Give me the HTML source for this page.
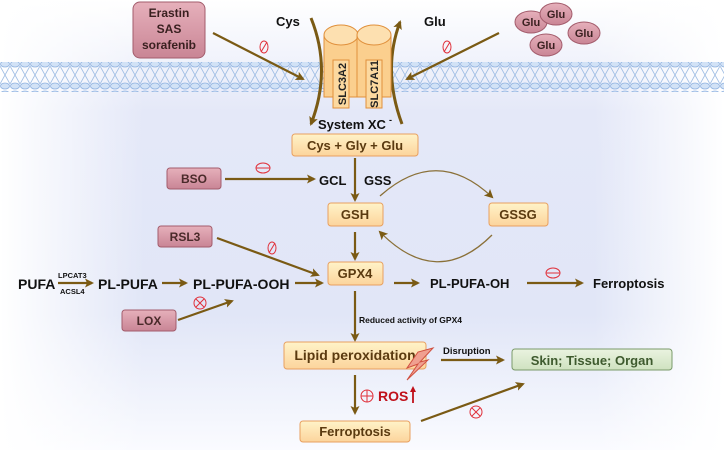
<!DOCTYPE html>
<html><head><meta charset="utf-8"><style>
body{margin:0;width:724px;height:450px;overflow:hidden;background:#fff}
svg{display:block;font-family:"Liberation Sans",Arial,sans-serif;font-weight:bold}
</style></head><body>
<svg width="724" height="450" viewBox="0 0 724 450" xmlns="http://www.w3.org/2000/svg">
<defs>
<linearGradient id="bgv" x1="0" y1="0" x2="0" y2="1">
<stop offset="0" stop-color="#fff"/><stop offset="0.25" stop-color="#e4e8f8"/><stop offset="0.7" stop-color="#e1e6f7"/><stop offset="1" stop-color="#fafbff"/></linearGradient>
<linearGradient id="bgh" x1="0" y1="0" x2="1" y2="0">
<stop offset="0" stop-color="#fff" stop-opacity="1"/><stop offset="0.2" stop-color="#fff" stop-opacity="0"/><stop offset="0.82" stop-color="#fff" stop-opacity="0"/><stop offset="1" stop-color="#fff" stop-opacity="1"/></linearGradient>
<linearGradient id="pink" x1="0" y1="0" x2="0" y2="1"><stop offset="0" stop-color="#e6b0bb"/><stop offset="1" stop-color="#c98595"/></linearGradient>
<linearGradient id="org" x1="0" y1="0" x2="0" y2="1"><stop offset="0" stop-color="#fff3c8"/><stop offset="1" stop-color="#fcd49c"/></linearGradient>
<linearGradient id="grn" x1="0" y1="0" x2="0" y2="1"><stop offset="0" stop-color="#eaf3e0"/><stop offset="1" stop-color="#cfe2c0"/></linearGradient>
<pattern id="mem" width="10" height="30" patternUnits="userSpaceOnUse">
<path d="M0 6 Q5 15 10 24 M10 6 Q5 15 0 24 M0 6 Q-5 15 -10 24 M10 6 Q15 15 20 24" stroke="#9fbde4" stroke-width="0.8" fill="none"/>
<ellipse cx="5" cy="4" rx="4.5" ry="3" fill="#d2e2f6" stroke="#8fb2e0" stroke-width="0.8"/>
<ellipse cx="5" cy="26" rx="4.5" ry="3" fill="#d2e2f6" stroke="#8fb2e0" stroke-width="0.8"/>
</pattern>
<marker id="ar" markerWidth="9" markerHeight="9" refX="7" refY="4.5" orient="auto" markerUnits="userSpaceOnUse"><path d="M0,0 L9,4.5 L0,9 L2,4.5 Z" fill="#7a5a14"/></marker>
</defs>
<rect width="724" height="450" fill="url(#bgv)"/>
<rect width="724" height="450" fill="url(#bgh)"/>
<rect x="0" y="62" width="724" height="30" fill="url(#mem)"/>

<g stroke="#7a5a14" stroke-width="2.2" fill="none" marker-end="url(#ar)">
<line x1="213" y1="33" x2="303" y2="79"/>
<line x1="499" y1="33" x2="407" y2="79"/>
<line x1="225" y1="179" x2="314" y2="179"/>
<line x1="355" y1="158" x2="355" y2="200"/>
<line x1="355" y1="232" x2="355" y2="259"/>
<line x1="217" y1="238" x2="318" y2="275"/>
<line x1="58" y1="283" x2="92" y2="283"/>
<line x1="162" y1="283" x2="186" y2="283"/>
<line x1="295" y1="283" x2="322" y2="283"/>
<line x1="178" y1="320" x2="232" y2="301"/>
<line x1="394" y1="283" x2="418" y2="283"/>
<line x1="527" y1="283" x2="582" y2="283"/>
<line x1="355" y1="291" x2="355" y2="340"/>
<line x1="441" y1="360" x2="503" y2="360"/>
<line x1="355" y1="375" x2="355" y2="413"/>
<line x1="421" y1="421" x2="523" y2="384"/>
</g>
<g stroke="#8a7038" stroke-width="1.3" fill="none" marker-end="url(#ar)">
<path d="M380 196 Q437 145 492 197"/>
<path d="M492 235 Q437 290 380 232"/>
</g>

<!-- channel -->
<g stroke="#7a5a14" stroke-width="3" fill="none" marker-end="url(#ar)">
<path d="M311 18 Q332 70 311 124"/>
<path d="M402 124 Q382 70 400 22"/>
</g>
<g stroke="#e0903c" stroke-width="1" fill="#fbcf8e">
<rect x="324" y="35" width="34" height="62"/>
<ellipse cx="341" cy="35" rx="17" ry="10" fill="#fde0b0"/>
<rect x="333" y="60" width="16" height="48" fill="#fcd9a0"/>
<rect x="357" y="35" width="34" height="62"/>
<ellipse cx="374" cy="35" rx="17" ry="10" fill="#fde0b0"/>
<rect x="366" y="60" width="16" height="48" fill="#fcd9a0"/>
</g>
<text x="346" y="84" font-size="11" transform="rotate(-90 346 84)" text-anchor="middle" fill="#222">SLC3A2</text>
<text x="378" y="84" font-size="11" transform="rotate(-90 378 84)" text-anchor="middle" fill="#222">SLC7A11</text>

<!-- boxes -->
<rect x="133" y="2" width="72" height="56" rx="7" fill="url(#pink)" stroke="#a35c6c"/>
<text font-size="12" fill="#3a2020" text-anchor="middle"><tspan x="169" y="17">Erastin</tspan><tspan x="169" y="33">SAS</tspan><tspan x="169" y="49">sorafenib</tspan></text>
<g fill="url(#pink)" stroke="#a35c6c">
<ellipse cx="531" cy="22" rx="16" ry="11"/><ellipse cx="556" cy="14" rx="16" ry="11"/><ellipse cx="546" cy="45" rx="16" ry="11"/><ellipse cx="584" cy="33" rx="16" ry="11"/>
</g>
<g font-size="11" fill="#3a2020" text-anchor="middle"><text x="531" y="26">Glu</text><text x="556" y="18">Glu</text><text x="546" y="49">Glu</text><text x="584" y="37">Glu</text></g>

<g fill="url(#pink)" stroke="#a35c6c">
<rect x="167" y="168" width="54" height="21" rx="3"/>
<rect x="158" y="226" width="54" height="21" rx="3"/>
<rect x="122" y="310" width="54" height="21" rx="3"/>
</g>
<g font-size="12" fill="#4a2a2a" text-anchor="middle"><text x="194" y="183">BSO</text><text x="185" y="241">RSL3</text><text x="149" y="325">LOX</text></g>

<g fill="url(#org)" stroke="#e8a060">
<rect x="292" y="134" width="126" height="22" rx="3"/>
<rect x="328" y="203" width="55" height="23" rx="3"/>
<rect x="489" y="203" width="59" height="23" rx="3"/>
<rect x="328" y="262" width="55" height="23" rx="3"/>
<rect x="284" y="342" width="142" height="27" rx="3"/>
<rect x="300" y="421" width="110" height="21" rx="3"/>
</g>
<rect x="512" y="349" width="160" height="21" rx="3" fill="url(#grn)" stroke="#7a9a6a"/>
<g fill="#5a3a10" text-anchor="middle" font-size="13">
<text x="355" y="150">Cys + Gly + Glu</text>
<text x="355" y="219">GSH</text><text x="518" y="219">GSSG</text><text x="355" y="278">GPX4</text>
<text x="355" y="360" font-size="14">Lipid peroxidation</text>
<text x="355" y="436">Ferroptosis</text>
</g>
<text x="592" y="365" font-size="13" fill="#3e5a2e" text-anchor="middle">Skin; Tissue; Organ</text>

<path d="M433 348 L418 352 L407 368 L418 364 L407 380 L428 360 L420 362 Z" fill="#f0a090" stroke="#d05040" stroke-width="1"/>

<g fill="#111" font-size="13">
<text x="276" y="26">Cys</text><text x="424" y="26">Glu</text>
<text x="318" y="129">System XC</text><text x="389" y="123" font-size="9">-</text>
<text x="319" y="185">GCL</text><text x="364" y="185">GSS</text>
<text x="18" y="289" font-size="14">PUFA</text>
<text x="98" y="289" font-size="14">PL-PUFA</text>
<text x="193" y="289" font-size="14">PL-PUFA-OOH</text>
<text x="430" y="288">PL-PUFA-OH</text>
<text x="593" y="288">Ferroptosis</text>
<text x="58" y="278" font-size="7.5">LPCAT3</text>
<text x="60" y="294" font-size="7.5">ACSL4</text>
<text x="359" y="323" font-size="8.5">Reduced activity of GPX4</text>
<text x="443" y="354" font-size="9.5">Disruption</text>
</g>
<text x="378" y="401" font-size="14" fill="#c0101a">ROS</text>
<path d="M413 403 L413 390" stroke="#c0101a" stroke-width="1.8"/>
<path d="M410 392 L413 386 L416 392 Z" fill="#c0101a"/>

<g stroke="#e0303a" stroke-width="1" fill="none">
<ellipse cx="264" cy="47" rx="4" ry="6"/><line x1="261" y1="52" x2="267" y2="42"/>
<ellipse cx="447" cy="47" rx="4" ry="6"/><line x1="444" y1="52" x2="450" y2="42"/>
<ellipse cx="272" cy="248" rx="4" ry="6"/><line x1="269" y1="253" x2="275" y2="243"/>
<ellipse cx="263" cy="168" rx="7" ry="5"/><line x1="256" y1="168" x2="270" y2="168"/>
<ellipse cx="553" cy="273" rx="7" ry="5"/><line x1="546" y1="273" x2="560" y2="273"/>
<circle cx="200" cy="303" r="6"/><line x1="196" y1="299" x2="204" y2="307"/><line x1="204" y1="299" x2="196" y2="307"/>
<circle cx="476" cy="412" r="6"/><line x1="472" y1="408" x2="480" y2="416"/><line x1="480" y1="408" x2="472" y2="416"/>
<circle cx="367" cy="396" r="6"/><line x1="361" y1="396" x2="373" y2="396"/><line x1="367" y1="390" x2="367" y2="402"/>
</g>
</svg>
</body></html>
